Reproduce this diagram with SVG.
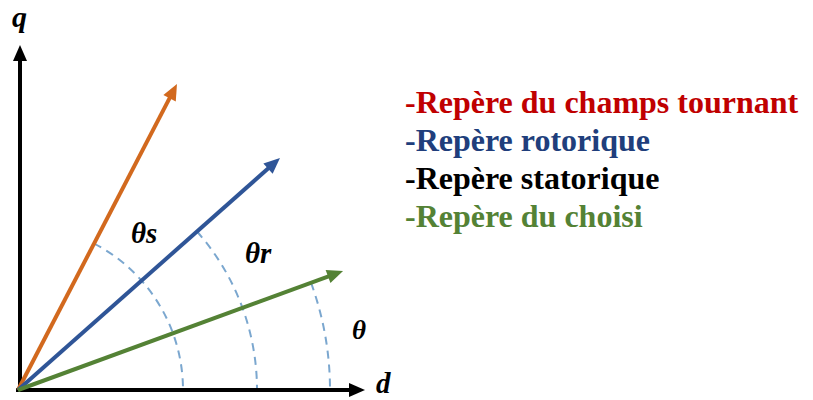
<svg xmlns="http://www.w3.org/2000/svg" width="813" height="400" viewBox="0 0 813 400">
<style>
.ax{stroke:#000;stroke-width:4;fill:none}
.vec{stroke-width:4;fill:none}
.arc{stroke:#7ba7cf;stroke-width:2;fill:none;stroke-dasharray:8 6}
.math{font-family:'Liberation Serif','Tinos','DejaVu Serif',serif;font-weight:700;font-style:italic}
.leg{font-family:'Liberation Serif','Tinos','DejaVu Serif',serif;font-weight:700;font-size:32px}
</style>
<defs>
<marker id="hk" markerUnits="userSpaceOnUse" markerWidth="16" markerHeight="14" refX="2" refY="7" orient="auto" overflow="visible"><path d="M0,0 L16,7 L0,14 z" fill="#000"/></marker>
<marker id="ho" markerUnits="userSpaceOnUse" markerWidth="16" markerHeight="14" refX="2" refY="7" orient="auto" overflow="visible"><path d="M0,0 L16,7 L0,14 z" fill="#d2691e"/></marker>
<marker id="hb" markerUnits="userSpaceOnUse" markerWidth="16" markerHeight="14" refX="2" refY="7" orient="auto" overflow="visible"><path d="M0,0 L16,7 L0,14 z" fill="#2f5597"/></marker>
<marker id="hg" markerUnits="userSpaceOnUse" markerWidth="16" markerHeight="14" refX="2" refY="7" orient="auto" overflow="visible"><path d="M0,0 L16,7 L0,14 z" fill="#548235"/></marker>
</defs>
<g id="arcs">
<path class="arc" d="M94.2,243.6 A165,165 0 0 1 183,390"/>
<path class="arc" d="M197,231.5 A239,239 0 0 1 257,390"/>
<path class="arc" d="M311,282.7 A312,312 0 0 1 330,390"/>
</g>
<g id="connectors">
<line class="ax" x1="20" y1="392" x2="20" y2="59" marker-end="url(#hk)"/>
<line class="ax" x1="16" y1="390" x2="351" y2="390" marker-end="url(#hk)"/>
<line class="vec" stroke="#d2691e" x1="18" y1="390" x2="170.5" y2="96.4" marker-end="url(#ho)"/>
<line class="vec" stroke="#2f5597" x1="18" y1="390" x2="269.5" y2="167.3" marker-end="url(#hb)"/>
<line class="vec" stroke="#548235" x1="18" y1="390" x2="329.9" y2="275.8" marker-end="url(#hg)"/>
</g>
<g id="labels">
<text class="math" x="12" y="27" font-size="30">q</text>
<text class="math" x="376" y="393" font-size="29">d</text>
<text class="math" x="131" y="243" font-size="29">θs</text>
<text class="math" x="245" y="263" font-size="29">θr</text>
<text class="math" x="352" y="339" font-size="27">θ</text>
</g>
<g id="legend">
<text class="leg" x="405" y="113" fill="#c00000">-Repère du champs tournant</text>
<text class="leg" x="405" y="151" fill="#203e7c">-Repère rotorique</text>
<text class="leg" x="405" y="189" fill="#000">-Repère statorique</text>
<text class="leg" x="405" y="227" fill="#548235">-Repère du choisi</text>
</g>
</svg>
